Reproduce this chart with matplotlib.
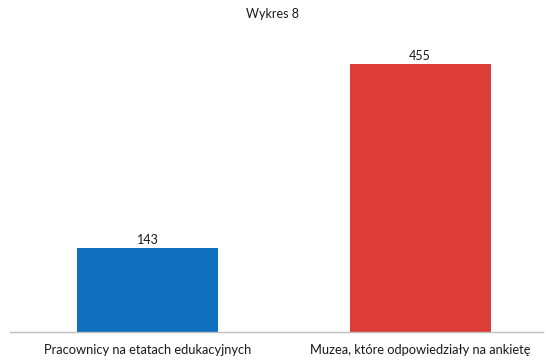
import matplotlib
matplotlib.use("Agg")
import matplotlib.pyplot as plt

# values shown in the chart
categories = ["Pracownicy na etatach edukacyjnych", "Muzea, które odpowiedziały na ankietę"]
values = [143, 455]
colors = ["#0f70c0", "#dc3d36"]

plt.rcParams["font.family"] = ["Lato", "DejaVu Sans"]

fig = plt.figure(figsize=(5.46, 3.63), dpi=100)
W, H = 546, 363
x0, x1 = 10, 543
y_base, y_top = 332, 37.5
ax = fig.add_axes([x0 / W, (H - y_base) / H, (x1 - x0) / W, (y_base - y_top) / H])

pos = [0, 1]
ax.bar(pos, values, width=0.517, color=colors, zorder=2)
for p, v in zip(pos, values):
    ax.text(p, v + 3, str(v), ha="center", va="bottom", fontsize=9, color="#1a1a1a")

ax.set_xlim(-0.505, 1.451)
ax.set_ylim(0, 500)
ax.set_yticks([])
ax.set_xticks(pos)
ax.set_xticklabels(categories, fontsize=9.3, color="#1a1a1a")
ax.tick_params(axis="x", length=0, pad=9)
for s in ["top", "right", "left"]:
    ax.spines[s].set_visible(False)
ax.spines["bottom"].set_color("#bfbfbf")
ax.spines["bottom"].set_linewidth(1.0)

fig.text(272 / W, 1 - 14 / H, "Wykres 8", ha="center", va="center", fontsize=9, color="#1a1a1a")

fig.savefig("out.png", dpi=100)
